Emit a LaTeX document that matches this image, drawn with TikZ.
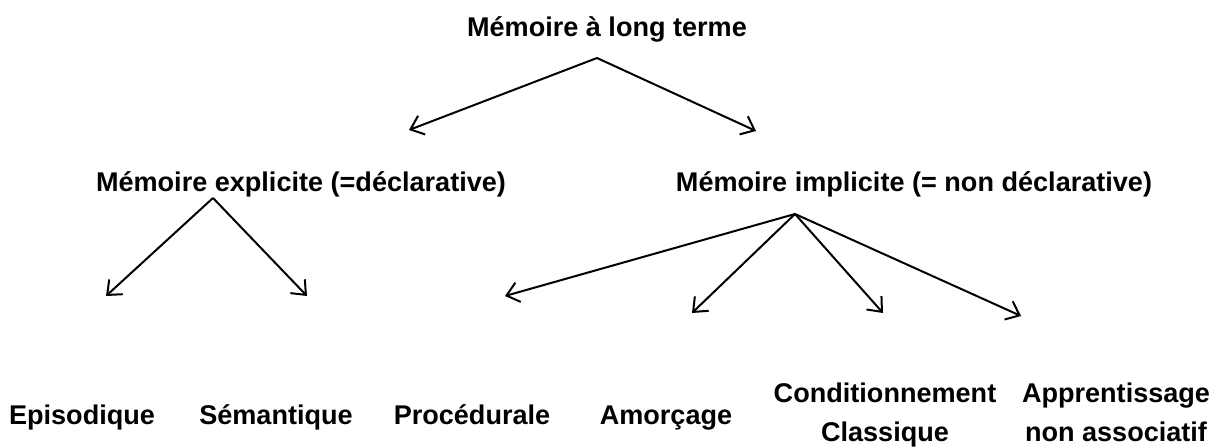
\documentclass[tikz,border=0pt]{standalone}
\usepackage{fontspec}
\setmainfont{Liberation Sans}
\usetikzlibrary{arrows.meta}
\tikzset{
  mem/.style={font=\fontsize{20.3}{24}\selectfont\bfseries, align=center, inner sep=0pt},
  fleche/.style={draw, line width=1.5pt, -{Straight Barb[length=9pt,width=15pt,line width=1.5pt]}},
}
\begin{document}
\begin{tikzpicture}[x=0.75pt,y=-0.75pt]
\useasboundingbox (0,0) rectangle (1217,448);
\node[mem,anchor=base] (mlt) at (607,37) {Mémoire à long terme};
\node[mem,anchor=base] (expl) at (301,192) {Mémoire explicite (=déclarative)};
\node[mem,anchor=base] (impl) at (914,192) {Mémoire implicite (= non déclarative)};
\node[mem,anchor=base] (epi) at (82,425) {Episodique};
\node[mem,anchor=base] (sem) at (276,425) {Sémantique};
\node[mem,anchor=base] (proc) at (472,425) {Procédurale};
\node[mem,anchor=base] (amor) at (666,425) {Amorçage};
\node[mem,anchor=north] (cond) at (885,383) {Conditionnement\\[5pt]Classique};
\node[mem,anchor=north] (appr) at (1116,383) {Apprentissage\\[5pt]non associatif};

\coordinate (mlt-b) at (597,58);
\coordinate (expl-b) at (213,198);
\coordinate (impl-b) at (795,214);
\coordinate (expl-t) at (409,130);
\coordinate (impl-t) at (756,131);
\coordinate (epi-t) at (106,296);
\coordinate (sem-t) at (307,296);
\coordinate (proc-t) at (505,296);
\coordinate (amor-t) at (692,313);
\coordinate (cond-t) at (883,313);
\coordinate (appr-t) at (1021,316);

\path[fleche] (mlt-b) -- (expl-t);
\path[fleche] (mlt-b) -- (impl-t);
\path[fleche] (expl-b) -- (epi-t);
\path[fleche] (expl-b) -- (sem-t);
\path[fleche] (impl-b) -- (proc-t);
\path[fleche] (impl-b) -- (amor-t);
\path[fleche] (impl-b) -- (cond-t);
\path[fleche] (impl-b) -- (appr-t);
\end{tikzpicture}
\end{document}
